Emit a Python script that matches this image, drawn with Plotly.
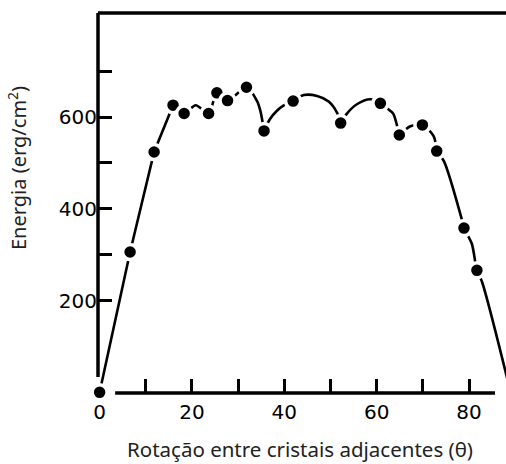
import plotly.graph_objects as go

# Measured data points (rotation angle in degrees, energy in erg/cm^2)
angle = [0, 6.6, 11.8, 15.9, 18.3, 23.6, 25.4, 27.7, 31.8, 35.6, 41.9,
         52.2, 60.8, 64.9, 69.9, 73.0, 78.9, 81.7, 89.0]
energy = [0, 306, 524, 626, 608, 608, 653, 636, 665, 570, 635,
          587, 630, 561, 583, 526, 358, 266, 0]

# Hand-drawn guide curve, split at its cusps
curve_a_x = [0, 6.6, 11.8, 15.9]
curve_a_y = [0, 306, 524, 626]
curve_b_x = [15.9, 18.3, 20.8, 23.6, 25.4, 27.7, 31.8, 34.1, 34.8, 35.6]
curve_b_y = [626, 608, 626, 608, 653, 636, 665, 635, 614, 570]
curve_c_x = [35.6, 36.9, 38.4, 39.8, 41.9, 44.2, 47.1, 49.6, 51.4, 52.2]
curve_c_y = [570, 596, 614, 625, 635, 648, 646, 634, 610, 587]
curve_d_x = [52.2, 53.5, 55.7, 58.6, 60.8, 62.9, 63.6, 64.9]
curve_d_y = [587, 607, 628, 639, 630, 614, 607, 561]
curve_e_x = [64.9, 67.3, 69.9, 72.3, 73.0]
curve_e_y = [561, 580, 583, 559, 526]
curve_f_x = [73.0, 74.6, 78.4, 78.9, 80.6, 81.7, 82.8, 89.0]
curve_f_y = [526, 503, 378, 358, 324, 266, 241, 0]

x_labels = [0, 20, 40, 60, 80]
x_minor = [10, 20, 30, 40, 50, 60, 70, 80]
y_labels = [200, 400, 600]
y_minor = [300, 500, 700]

x_title = "Rotação entre cristais adjacentes (θ)"
y_title = "Energia (erg/cm<sup>2</sup>)"

fig = go.Figure()
segments = [(curve_a_x, curve_a_y, "linear"), (curve_b_x, curve_b_y, "spline"),
            (curve_c_x, curve_c_y, "spline"), (curve_d_x, curve_d_y, "spline"),
            (curve_e_x, curve_e_y, "spline"), (curve_f_x, curve_f_y, "spline")]
for sx, sy, shape in segments:
    fig.add_trace(go.Scatter(x=sx, y=sy, mode="lines",
                             line=dict(color="black", width=2.6, shape=shape, smoothing=0.8),
                             hoverinfo="skip", showlegend=False))

fig.add_trace(go.Scatter(x=angle, y=energy, mode="markers",
                         marker=dict(color="black", size=15,
                                     line=dict(color="white", width=3.5)),
                         cliponaxis=False, showlegend=False))

tick_font = dict(family="DejaVu Sans", size=20, color="black")

fig.update_layout(
    width=506, height=464,
    margin=dict(l=98, r=0, t=13, b=71),
    paper_bgcolor="white", plot_bgcolor="white",
    xaxis=dict(range=[-0.35, 88.0], tickvals=x_labels, ticks="",
               showgrid=False, zeroline=False, showline=False,
               tickfont=tick_font, ticklabelstandoff=5,
               minor=dict(tickvals=x_minor, ticks="inside", ticklen=14,
                          tickwidth=2.5, tickcolor="black", showgrid=False)),
    yaxis=dict(range=[-1.5, 827], tickvals=y_labels,
               ticks="inside", ticklen=14, tickwidth=3, tickcolor="black",
               showgrid=False, zeroline=False, showline=False,
               tickfont=tick_font,
               minor=dict(tickvals=y_minor, ticks="inside", ticklen=14,
                          tickwidth=3, tickcolor="black", showgrid=False)),
    shapes=[
        dict(type="line", xref="paper", yref="paper", x0=0, x1=0, y0=0.042, y1=1,
             line=dict(color="black", width=3.5)),
        dict(type="line", xref="paper", yref="paper", x0=0, x1=1, y0=1, y1=1,
             line=dict(color="black", width=3.5)),
        dict(type="line", xref="paper", yref="paper", x0=0.042, x1=0.973, y0=0, y1=0,
             line=dict(color="black", width=3.5)),
    ],
    annotations=[
        dict(text=x_title, xref="paper", yref="paper", x=(300 - 98) / 408, y=-(449 - 393) / 380,
             showarrow=False, xanchor="center", yanchor="middle",
             font=dict(family="Noto Sans", size=20.5, color="#222222")),
        dict(text=y_title, xref="paper", yref="paper", x=-(98 - 17) / 408, y=(393 - 168) / 380,
             showarrow=False, xanchor="center", yanchor="middle", textangle=-90,
             font=dict(family="Noto Sans", size=20, color="#222222")),
    ],
)

fig.write_html("out.html")
